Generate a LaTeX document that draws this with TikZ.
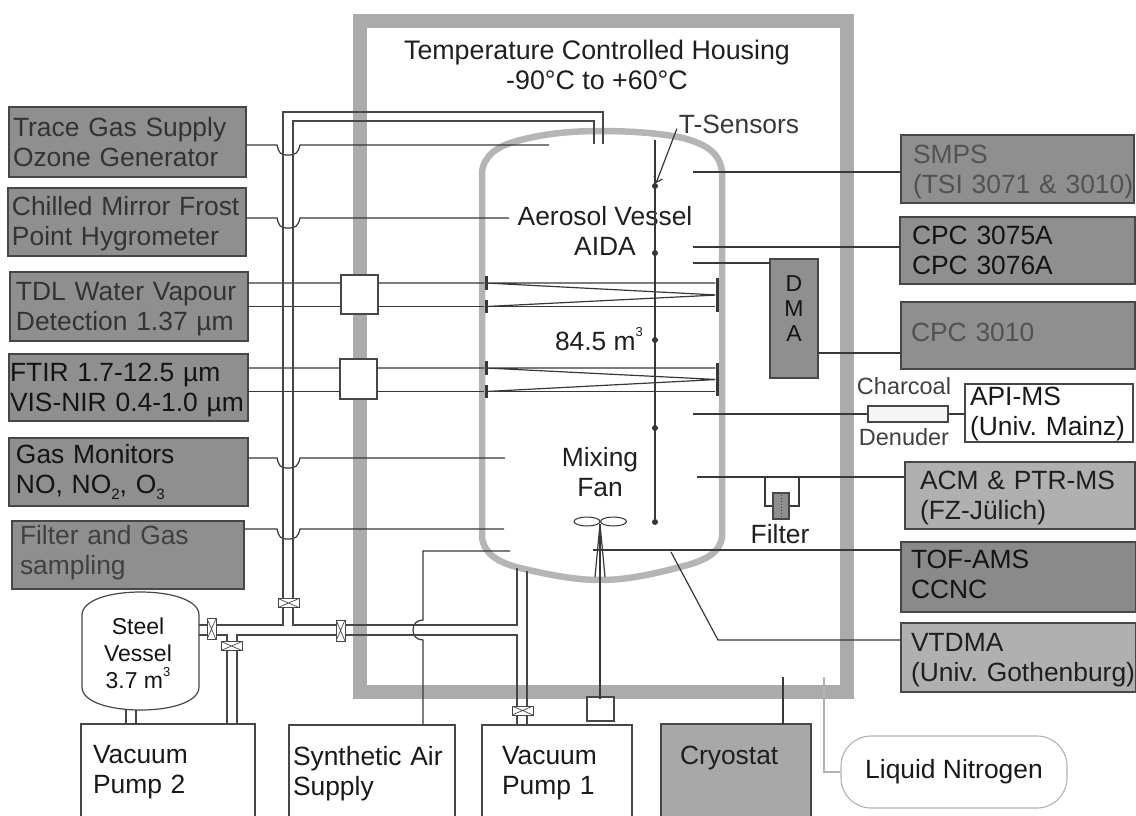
\documentclass[tikz,border=0pt]{standalone}
\usepackage{fontspec}
\setmainfont{Liberation Sans}
\usepackage{tikz}
\usetikzlibrary{shapes.geometric, arrows.meta, positioning}
\AtBeginDocument{\frenchspacing}
\newcommand{\cubed}{\raisebox{0.5em}{\fontsize{13}{13}\selectfont 3}}
\newcommand{\lowidx}[1]{\raisebox{-0.2em}{\fontsize{15}{15}\selectfont #1}}
\tikzstyle{wall} = [rectangle, draw=black!33, line width=14pt, outer sep=0pt, inner sep=0pt]
\tikzstyle{vesselwall} = [draw=black!29, line width=6.5pt]
\tikzstyle{panel} = [rectangle, anchor=north west, draw=black!72, line width=1.2pt, align=left, outer sep=0pt, inner ysep=0pt, font=\fontsize{26.4}{30}\selectfont]
\tikzstyle{darkbox} = [panel, fill=black!44, text=black!80]
\tikzstyle{fadedbox} = [panel, fill=black!44, text=black!68]
\tikzstyle{lightbox} = [panel, fill=black!31, text=black!88]
\tikzstyle{whitebox} = [panel, fill=white, text=black!90]
\tikzstyle{note} = [inner sep=0pt, align=center, text=black!88, font=\fontsize{26.4}{30}\selectfont]
\tikzstyle{line} = [draw=black!78, line width=1.2pt]
\tikzstyle{pipe} = [draw=black!72, line width=1.2pt]
\tikzstyle{arrow} = [line, -{Straight Barb[length=5pt,width=9pt]}]
\tikzstyle{port} = [rectangle, draw=black!72, fill=white, line width=1.2pt, inner sep=0pt]
\tikzstyle{mirror} = [rectangle, fill=black!78, inner sep=0pt, minimum width=3pt]
\tikzstyle{sensor} = [circle, fill=black!80, inner sep=0pt, minimum size=6pt]
\tikzstyle{blade} = [ellipse, draw=black!80, fill=white, line width=1pt, inner sep=0pt, minimum width=26pt, minimum height=9pt]
\tikzstyle{valve} = [rectangle, draw=black!72, fill=white, line width=1pt, inner sep=0pt, path picture={\draw [black!72, line width=0.7pt] (path picture bounding box.north west) -- (path picture bounding box.south east) (path picture bounding box.north east) -- (path picture bounding box.south west);}]

\begin{document}
\begin{tikzpicture}[x=1pt, y=-1pt]
    \useasboundingbox (0,0) rectangle (1136,815);
    \node (housing) [wall, minimum width=486.5pt, minimum height=671pt] at (603.25,356.5) {};
    \draw [vesselwall] (482,172) .. controls (484,155) and (498,146) .. (517,141) .. controls (545,133) and (575,131) .. (600,131) .. controls (630,131) and (660,133) .. (683,138) .. controls (705,144) and (720,152) .. (722,172) -- (722,537) .. controls (720,553) and (705,561) .. (680,567) .. controls (650,575) and (625,580) .. (600,580) .. controls (575,580) and (550,575) .. (520,568) .. controls (500,563) and (484,555) .. (482,537) -- cycle;

    \node (title) [note, font=\fontsize{26.8}{30}\selectfont] at (597,65) {Temperature Controlled Housing\\-90°C to +60°C};
    \node (tsensors) [note, text=black!78] at (739,124) {T-Sensors};
    \node (aerosol) [note] at (605,231) {Aerosol Vessel\\AIDA};
    \node (volume) [note] at (599,339) {84.5 m\cubed};
    \node (fanlabel) [note] at (600,472) {Mixing\\Fan};
    \node (filterlabel) [note] at (780,534) {Filter};
    \node (charcoal) [note, text=black!75, font=\fontsize{23.5}{30}\selectfont] at (904,386) {Charcoal};
    \node (denuder) [note, text=black!75, font=\fontsize{23.5}{30}\selectfont] at (904,437) {Denuder};

    \node (tracegas) [darkbox, inner xsep=4pt, text width=229pt, minimum height=70pt] at (9,107) {Trace Gas Supply\\Ozone Generator};
    \node (chilled) [darkbox, inner xsep=4pt, text width=230pt, minimum height=68pt] at (8,188) {\mbox{Chilled Mirror Frost}\\Point Hygrometer\vspace{-4pt}};
    \node (tdl) [darkbox, inner xsep=6pt, text width=226pt, minimum height=69pt] at (10,272) {TDL Water Vapour\\Detection 1.37 µm\vspace{-5pt}};
    \node (ftir) [darkbox, text=black!92, inner xsep=1pt, text width=237pt, minimum height=67pt] at (9,354) {FTIR 1.7-12.5 µm\\\mbox{VIS-NIR 0.4-1.0 µm}\vspace{-6pt}};
    \node (gasmon) [darkbox, text=black!92, inner xsep=7pt, text width=225pt, minimum height=68pt] at (9,438) {Gas Monitors\\NO, NO\lowidx{2}, O\lowidx{3}};
    \node (filtergas) [darkbox, text=black!75, inner xsep=8pt, text width=216pt, minimum height=68pt] at (12,521) {Filter and Gas\\sampling\vspace{4pt}};

    \node (smps) [fadedbox, inner xsep=12pt, text width=209pt, minimum height=68pt] at (901,135) {SMPS\\\mbox{(TSI 3071 \& 3010)}\vspace{-6pt}};
    \node (cpca) [darkbox, text=black!92, inner xsep=12pt, text width=211pt, minimum height=67pt] at (900,217) {CPC 3075A\\CPC 3076A};
    \node (cpcb) [fadedbox, inner xsep=10pt, text width=214pt, minimum height=67pt] at (901,302) {CPC 3010\vspace{6pt}};
    \node (dma) [darkbox, text=black!92, align=center, inner xsep=0pt, text width=48pt, minimum height=119pt, font=\fontsize{23}{25}\selectfont] at (770,259) {D\\M\\A\vspace{20pt}};
    \node (api) [whitebox, inner xsep=5pt, text width=158pt, minimum height=58pt] at (965,384) {API-MS\\(Univ. Mainz)\vspace{-3pt}};
    \node (acm) [lightbox, inner xsep=15pt, text width=200pt, minimum height=67pt] at (905,462) {ACM \& PTR-MS\\(FZ-Jülich)\vspace{-6pt}};
    \node (tof) [darkbox, fill=black!46, text=black!92, inner xsep=10pt, text width=215pt, minimum height=70pt] at (901,542) {TOF-AMS\\CCNC\vspace{5pt}};
    \node (vtdma) [lightbox, inner xsep=10pt, text width=215pt, minimum height=69pt] at (901,623) {VTDMA\\\mbox{(Univ. Gothenburg)}\vspace{-6pt}};

    \node (pumpb) [whitebox, inner xsep=12pt, text width=150pt, minimum height=93pt] at (81,724) {Vacuum\\Pump 2\vspace{-4pt}};
    \node (synth) [whitebox, inner xsep=4pt, text width=158pt, minimum height=93pt] at (289,725) {Synthetic Air\\Supply\vspace{-4pt}};
    \node (pumpa) [whitebox, inner xsep=20pt, text width=110pt, minimum height=93pt] at (482,725) {Vacuum\\Pump 1\vspace{-4pt}};
    \node (cryostat) [lightbox, fill=black!34, inner xsep=19pt, text width=112pt, minimum height=93pt] at (661,724) {Cryostat\\~};

    \node (steel) [note, minimum width=118pt, minimum height=118pt, font=\fontsize{23}{27}\selectfont, text=black!92] at (138,653) {Steel\\Vessel\\3.7 m\cubed};
    \draw [pipe] (82,615) .. controls (82,600) and (110,592) .. (140.5,592) .. controls (171,592) and (199,600) .. (199,615) -- (199,687) .. controls (199,702) and (171,710) .. (140.5,710) .. controls (110,710) and (82,702) .. (82,687) -- cycle;
    \node (liquid) [rectangle, rounded corners=30pt, draw=black!30, line width=1.1pt, fill=white, minimum width=226pt, minimum height=72pt, inner sep=0pt, font=\fontsize{26.4}{30}\selectfont, text=black!90] at (954,772) {Liquid Nitrogen};

    \foreach \src/\yy/\xx in {tracegas/145/549, chilled/218/509, gasmon/458/505, filtergas/529/504}
        \draw [line] (\src.east |- 0,\yy) -- (277,\yy) .. controls (279,\yy+8) and (280,\yy+10) .. (288,\yy+10) .. controls (296,\yy+10) and (298,\yy+8) .. (300,\yy) -- (\xx,\yy);

    \coordinate (smpsport) at (693,172);
    \coordinate (cpcport) at (693,247);
    \coordinate (dmaport) at (693,263);
    \coordinate (denuderport) at (693,414);
    \coordinate (acmport) at (697,477);
    \coordinate (tofport) at (593,550);
    \coordinate (vtdmaport) at (671,552);
    \coordinate (vtdmabend) at (718,640);
    \coordinate (filterleft) at (765,477);
    \coordinate (filterright) at (799,477);
    \coordinate (cryoport) at (783,677);
    \coordinate (nitrogenport) at (824,677);
    \coordinate (airbend) at (423,551);
    \coordinate (airport) at (510,551);

    \node (denuderbox) [rectangle, draw=black!72, fill=black!4, line width=1.2pt, inner sep=0pt, minimum width=80pt, minimum height=16pt] at (908,414) {};
    \node (filterbox) [rectangle, draw=black!72, fill=black!44, line width=1.2pt, inner sep=0pt, minimum width=16pt, minimum height=26pt] at (781,506) {};
    \draw [black!75, line width=1pt, dotted] (filterbox.north) -- (filterbox.south);

    \draw [line] (smpsport) -- (smps.west |- smpsport);
    \draw [line] (cpcport) -- (cpca.west |- cpcport);
    \draw [line] (dmaport) -- (dma.west |- dmaport);
    \draw [line] (dma.east |- 0,353) -- (cpcb.west |- 0,353);
    \draw [line] (denuderport) -- (denuderbox.west);
    \draw [line] (denuderbox.east) -- (api.west |- denuderbox);
    \draw [line] (acmport) -- (acm.west |- acmport);
    \draw [line] (filterleft) |- (filterbox.west);
    \draw [line] (filterright) |- (filterbox.east);
    \draw [line] (tofport) -- (tof.west |- tofport);
    \draw [line] (vtdmaport) -- (vtdmabend) -- (vtdma.west |- vtdmabend);
    \draw [line] (cryoport) -- (cryostat.north -| cryoport);
    \draw [draw=black!30, line width=1.1pt] (nitrogenport) |- (liquid.west);
    \draw [line] (synth.north -| airbend) -- (423,640) .. controls (417,640) and (413,636) .. (413,630) .. controls (413,624) and (417,620) .. (423,620) -- (airbend) -- (airport);

    \node (mirrora) [mirror, minimum height=14pt] at (486,283) {};
    \node (mirrorb) [mirror, minimum height=13pt] at (486,306.5) {};
    \node (mirrorc) [mirror, minimum height=14pt] at (486,368) {};
    \node (mirrord) [mirror, minimum height=13pt] at (486,391.5) {};
    \node (mirrore) [mirror, minimum height=34pt] at (717,295) {};
    \node (mirrorf) [mirror, minimum height=33pt] at (717,379.5) {};
    \draw [line] (tdl.east |- mirrora) -- (mirrora) -- (mirrore.west |- mirrora) (mirrora) -- (mirrore) -- (mirrorb);
    \draw [line] (tdl.east |- mirrorb) -- (mirrorb) -- (mirrore.west |- mirrorb);
    \draw [line] (ftir.east |- mirrorc) -- (mirrorc) -- (mirrorf.west |- mirrorc) (mirrorc) -- (mirrorf) -- (mirrord);
    \draw [line] (ftir.east |- mirrord) -- (mirrord) -- (mirrorf.west |- mirrord);

    \draw [pipe] (603,144) -- (603,112) -- (283,112) -- (283,625) -- (199,625);
    \draw [pipe] (594,144) -- (594,121) -- (293,121) -- (293,625) -- (517,625) -- (517,568);
    \draw [pipe] (199,635) -- (227,635) -- (pumpb.north -| 227,0);
    \draw [pipe] (pumpb.north -| 237,0) -- (237,635) -- (517,635) -- (pumpa.north -| 517,0);
    \draw [pipe] (527,571) -- (pumpa.north -| 527,0);
    \draw [pipe] (126,710) -- (pumpb.north -| 126,0);
    \draw [pipe] (136,710) -- (pumpb.north -| 136,0);

    \node (valvetop) [valve, minimum width=21pt, minimum height=9pt] at (288.5,603) {};
    \node (valveleft) [valve, minimum width=9pt, minimum height=21pt] at (211.5,629) {};
    \node (valvepump) [valve, minimum width=21pt, minimum height=9pt] at (231.5,646) {};
    \node (valvemid) [valve, minimum width=9pt, minimum height=21pt] at (340.5,630.5) {};
    \node (valvebottom) [valve, minimum width=21pt, minimum height=9pt] at (522.5,710.5) {};

    \node (tdlport) [port, minimum width=37pt, minimum height=39pt] at (359.5,294.5) {};
    \node (ftirport) [port, minimum width=37pt, minimum height=40pt] at (358.5,379) {};

    \foreach \yy in {186,253,340,428,522}
        \node (dot\yy) [sensor] at (655,\yy) {};
    \draw [line] (655,140) -- (dot522);
    \draw [arrow, shorten <=5pt] (tsensors.west) -- (dot186);

    \node (motor) [port, minimum width=27pt, minimum height=24pt] at (600.5,709) {};
    \draw [line] (600,524) -- (600,699);
    \draw [line] (595,577) -- (600,524) -- (605,577);
    \node (bladeleft) [blade] at (587,521.5) {};
    \node (bladeright) [blade] at (613.5,521.5) {};
\end{tikzpicture}
\end{document}
